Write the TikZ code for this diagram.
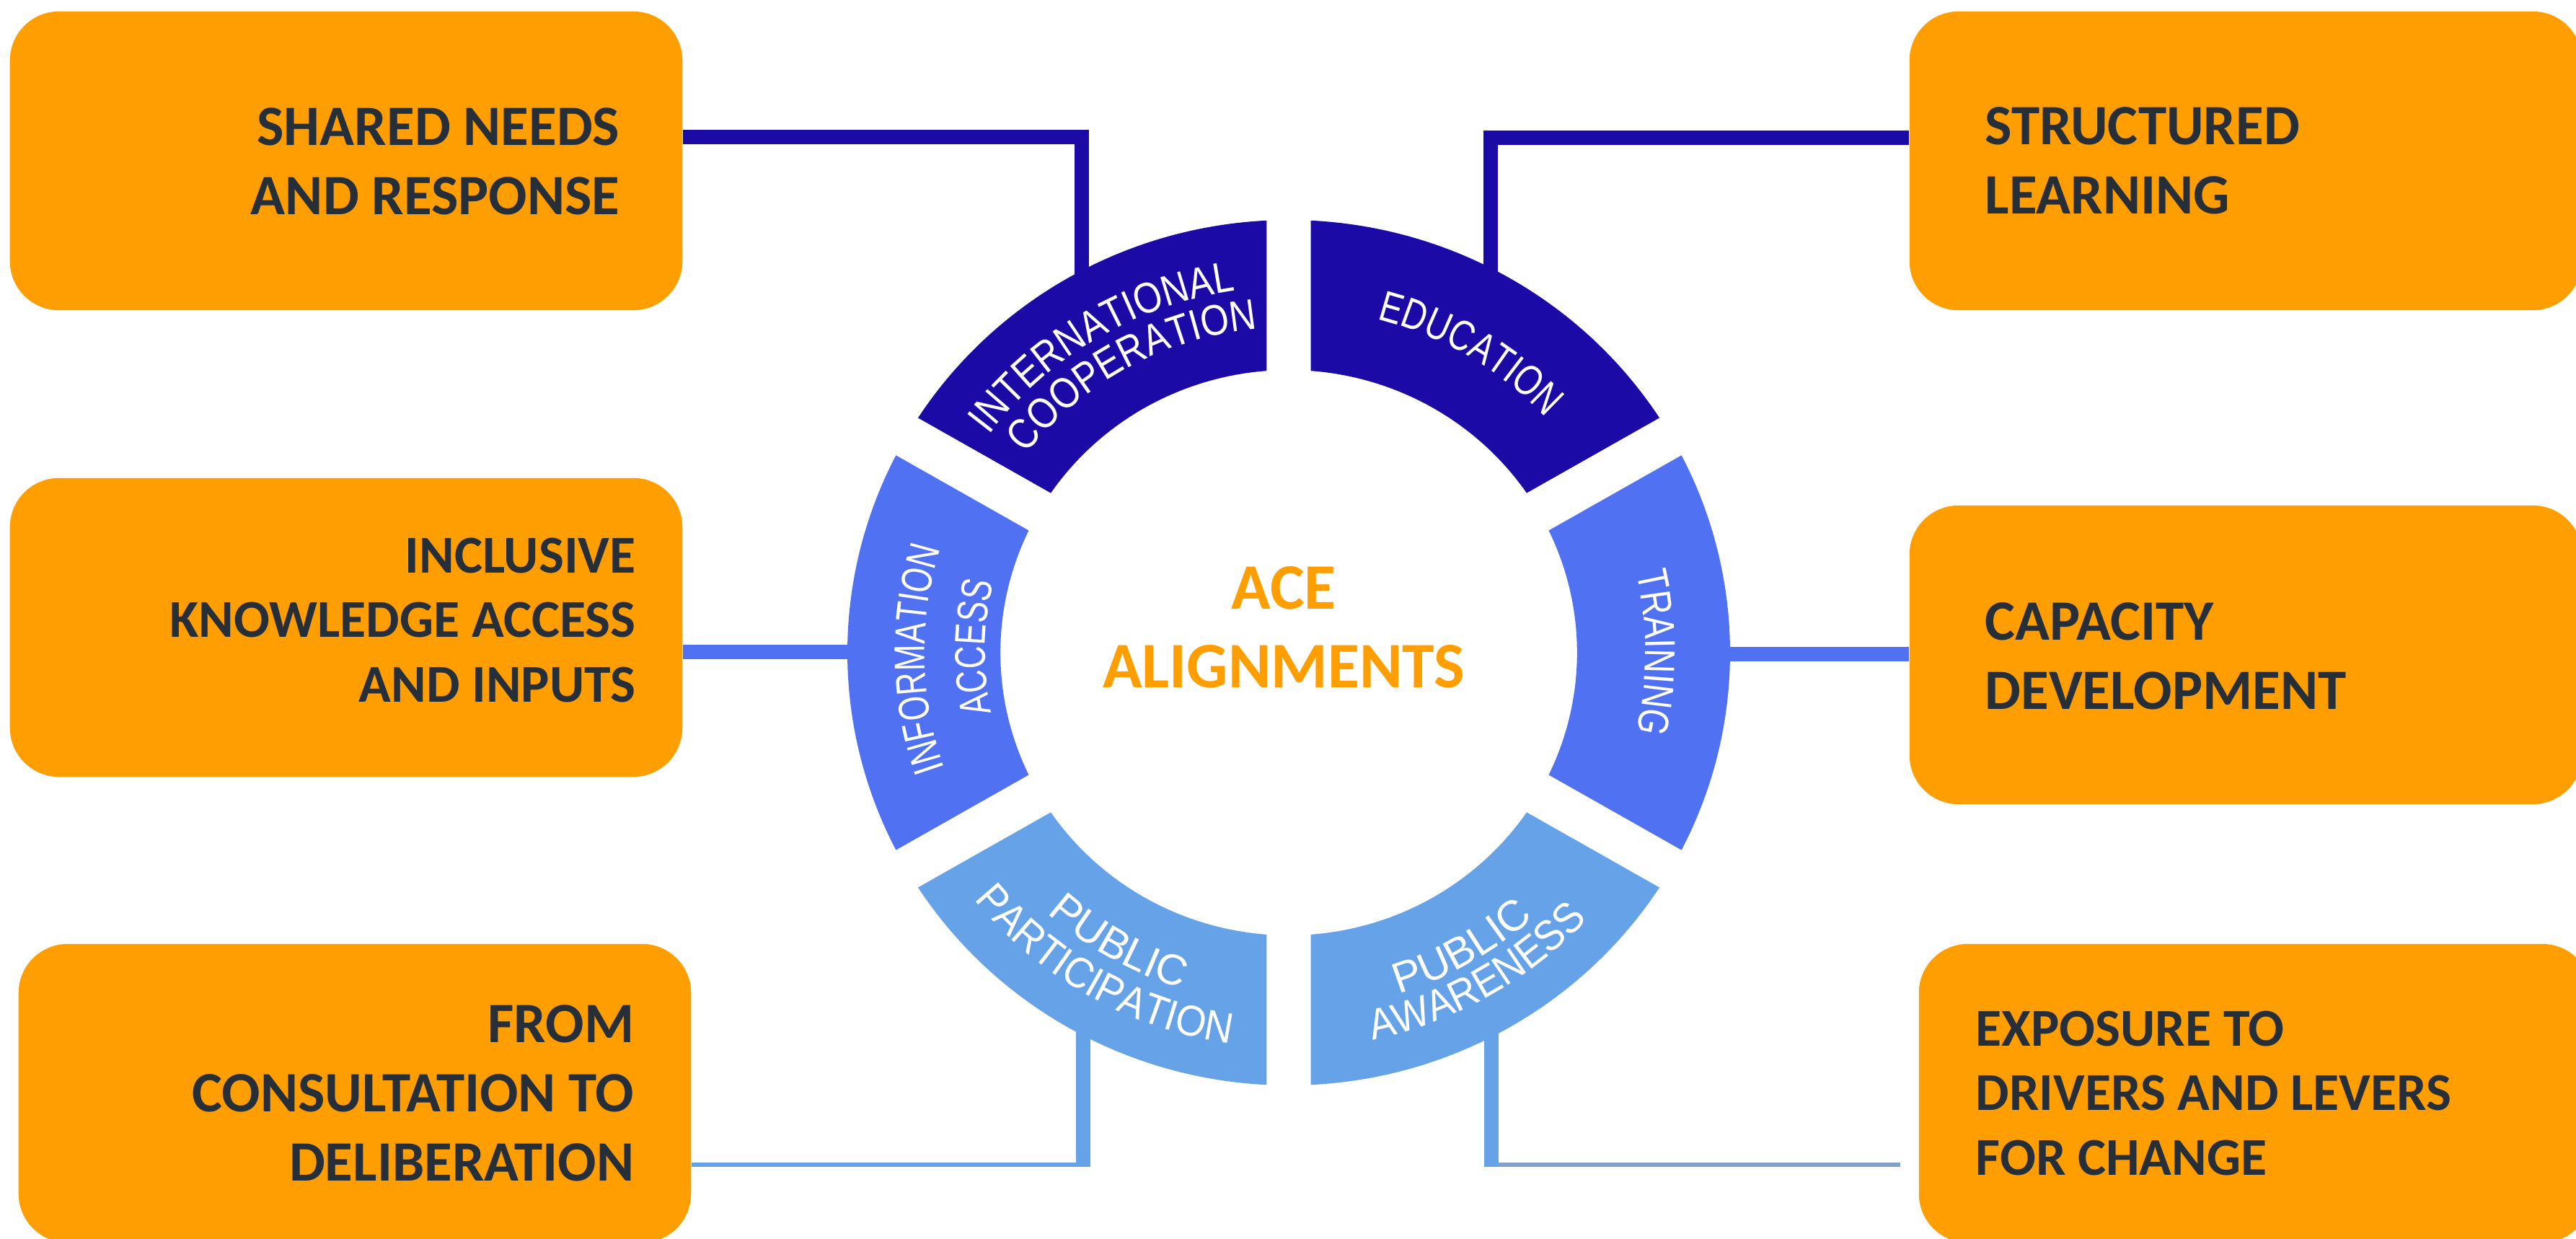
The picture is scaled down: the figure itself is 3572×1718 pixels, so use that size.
\documentclass[tikz,border=0pt]{standalone}
\usepackage{fontspec}
\setmainfont{Carlito}
\newfontfamily\segfa[FakeStretch=0.74]{Liberation Sans}
\newfontfamily\segfb[FakeStretch=0.78]{Liberation Sans}
\newfontfamily\segfc[FakeStretch=0.85]{Liberation Sans}
\newfontfamily\segfd[FakeStretch=0.91]{Liberation Sans}
\newfontfamily\segfe[FakeStretch=1.0]{Liberation Sans}
\usetikzlibrary{decorations.text}
\definecolor{boxorange}{HTML}{FF9E00}
\definecolor{textdark}{HTML}{262E38}
\definecolor{segdark}{HTML}{1C0AA6}
\definecolor{segmid}{HTML}{5171F3}
\definecolor{seglight}{HTML}{66A2E8}
\definecolor{linegray}{HTML}{82A0CC}
\newcommand\ringseg[3]{\fill[#3] ({#1+2.866}:600) arc[start angle={#1+2.866}, end angle={#2-2.866}, radius=600] -- ({#2-4.389}:392) arc[start angle={#2-4.389}, end angle={#1+4.389}, radius=392] -- cycle;}
\newcommand\segtext[5]{\path[decorate, decoration={text along path, text align=center, text={|#5\fontsize{17}{17}\selectfont\color{white}|#4}}] (#1:#3) arc[start angle=#1, end angle=#2, radius=#3];}
\begin{document}
\begin{tikzpicture}[x=0.01cm,y=0.01cm,
  obox/.style={fill=boxorange, rounded corners=0.68cm, minimum width=9.32cm, minimum height=4.14cm, inner sep=0pt},
  btext/.style={font=\fontsize{22.5}{27.3}\selectfont\bfseries, text=textdark, inner sep=0pt},
  bsmall/.style={font=\fontsize{21}{25.5}\selectfont\bfseries, text=textdark, inner sep=0pt},
  dline/.style={draw=segdark, line width=0.2cm},
  mline/.style={draw=segmid, line width=0.2cm},
  lline/.style={draw=seglight, line width=0.2cm},
  thinl/.style={line width=0.06cm}]
\useasboundingbox (0,0) rectangle (3572,-1718);
\fill[white] (0,0) rectangle (3572,-1718);
% boxes
\node[obox] (b1) at (480,-223) {};
\node[obox] (b2) at (480,-870) {};
\node[obox] (b3) at (492,-1516) {};
\node[obox] (b4) at (3114,-223) {};
\node[obox] (b5) at (3114,-908) {};
\node[obox] (b6) at (3127,-1516) {};
\node[btext, anchor=east, align=right] (t1) at (860,-224) {SHARED NEEDS\\AND RESPONSE};
\node[bsmall, anchor=east, align=right] (t2) at (882,-860) {INCLUSIVE\\KNOWLEDGE ACCESS\\AND INPUTS};
\node[btext, anchor=east, align=right] (t3) at (880,-1516) {FROM\\CONSULTATION TO\\DELIBERATION};
\node[btext, anchor=west, align=left] (t4) at (2752,-223) {STRUCTURED\\LEARNING};
\node[btext, anchor=west, align=left] (t5) at (2752,-910) {CAPACITY\\DEVELOPMENT};
\node[bsmall, anchor=west, align=left] (t6) at (2739,-1516) {EXPOSURE TO\\DRIVERS AND LEVERS\\FOR CHANGE};
% connector coordinates
\coordinate (ya) at (0,-190);
\coordinate (yb) at (0,-191);
\coordinate (icx) at (1500,-395);
\coordinate (edx) at (2067,-392);
\coordinate (iax) at (1195,-904);
\coordinate (trx) at (2380,-907);
\coordinate (ppx) at (1502,-1420);
\coordinate (pax) at (2068,-1420);
\coordinate (ppb) at (1502,-1618);
\coordinate (pab) at (2068,-1618);
\coordinate (ppm) at (1502,-1615);
\coordinate (pam) at (2068,-1615);
\draw[dline] (b1.east |- ya) -| (icx);
\draw[dline] (b4.west |- yb) -| (edx);
\draw[mline] (b2.east |- iax) -- (iax);
\draw[mline] (trx) -- (b5.west |- trx);
\draw[seglight, thinl] (b3.east |- ppm) -- (ppm);
\draw[lline] (ppx) -- (ppb);
\draw[linegray, thinl] (pam) -- ([xshift=-0.25cm]b6.west |- pam);
\draw[lline] (pax) -- (pab);
% ring
\begin{scope}[shift={(1787,-905)}, xscale=1.02]
\ringseg{30}{90}{segdark}
\ringseg{90}{150}{segdark}
\ringseg{150}{210}{segmid}
\ringseg{210}{270}{seglight}
\ringseg{270}{330}{seglight}
\ringseg{-30}{30}{segmid}
\segtext{104}{14}{478}{EDUCATION}{\segfb}
\segtext{166}{76}{507}{INTERNATIONAL}{\segfc}
\segtext{164}{74}{451}{COOPERATION}{\segfc}
\segtext{226}{136}{495}{INFORMATION}{\segfa}
\segtext{224}{134}{413}{ACCESS}{\segfa}
\segtext{45}{-45}{485}{TRAINING}{\segfb}
\segtext{200}{280}{488}{PUBLIC}{\segfe}
\segtext{200}{280}{548}{PARTICIPATION}{\segfd}
\segtext{260}{340}{496}{PUBLIC}{\segfe}
\segtext{260}{340}{549}{AWARENESS}{\segfd}
\end{scope}
\node[font=\fontsize{25.6}{31}\selectfont\bfseries, text=boxorange, align=center, inner sep=0pt] (ace) at (1780,-870) {ACE\\ALIGNMENTS};
\end{tikzpicture}
\end{document}
